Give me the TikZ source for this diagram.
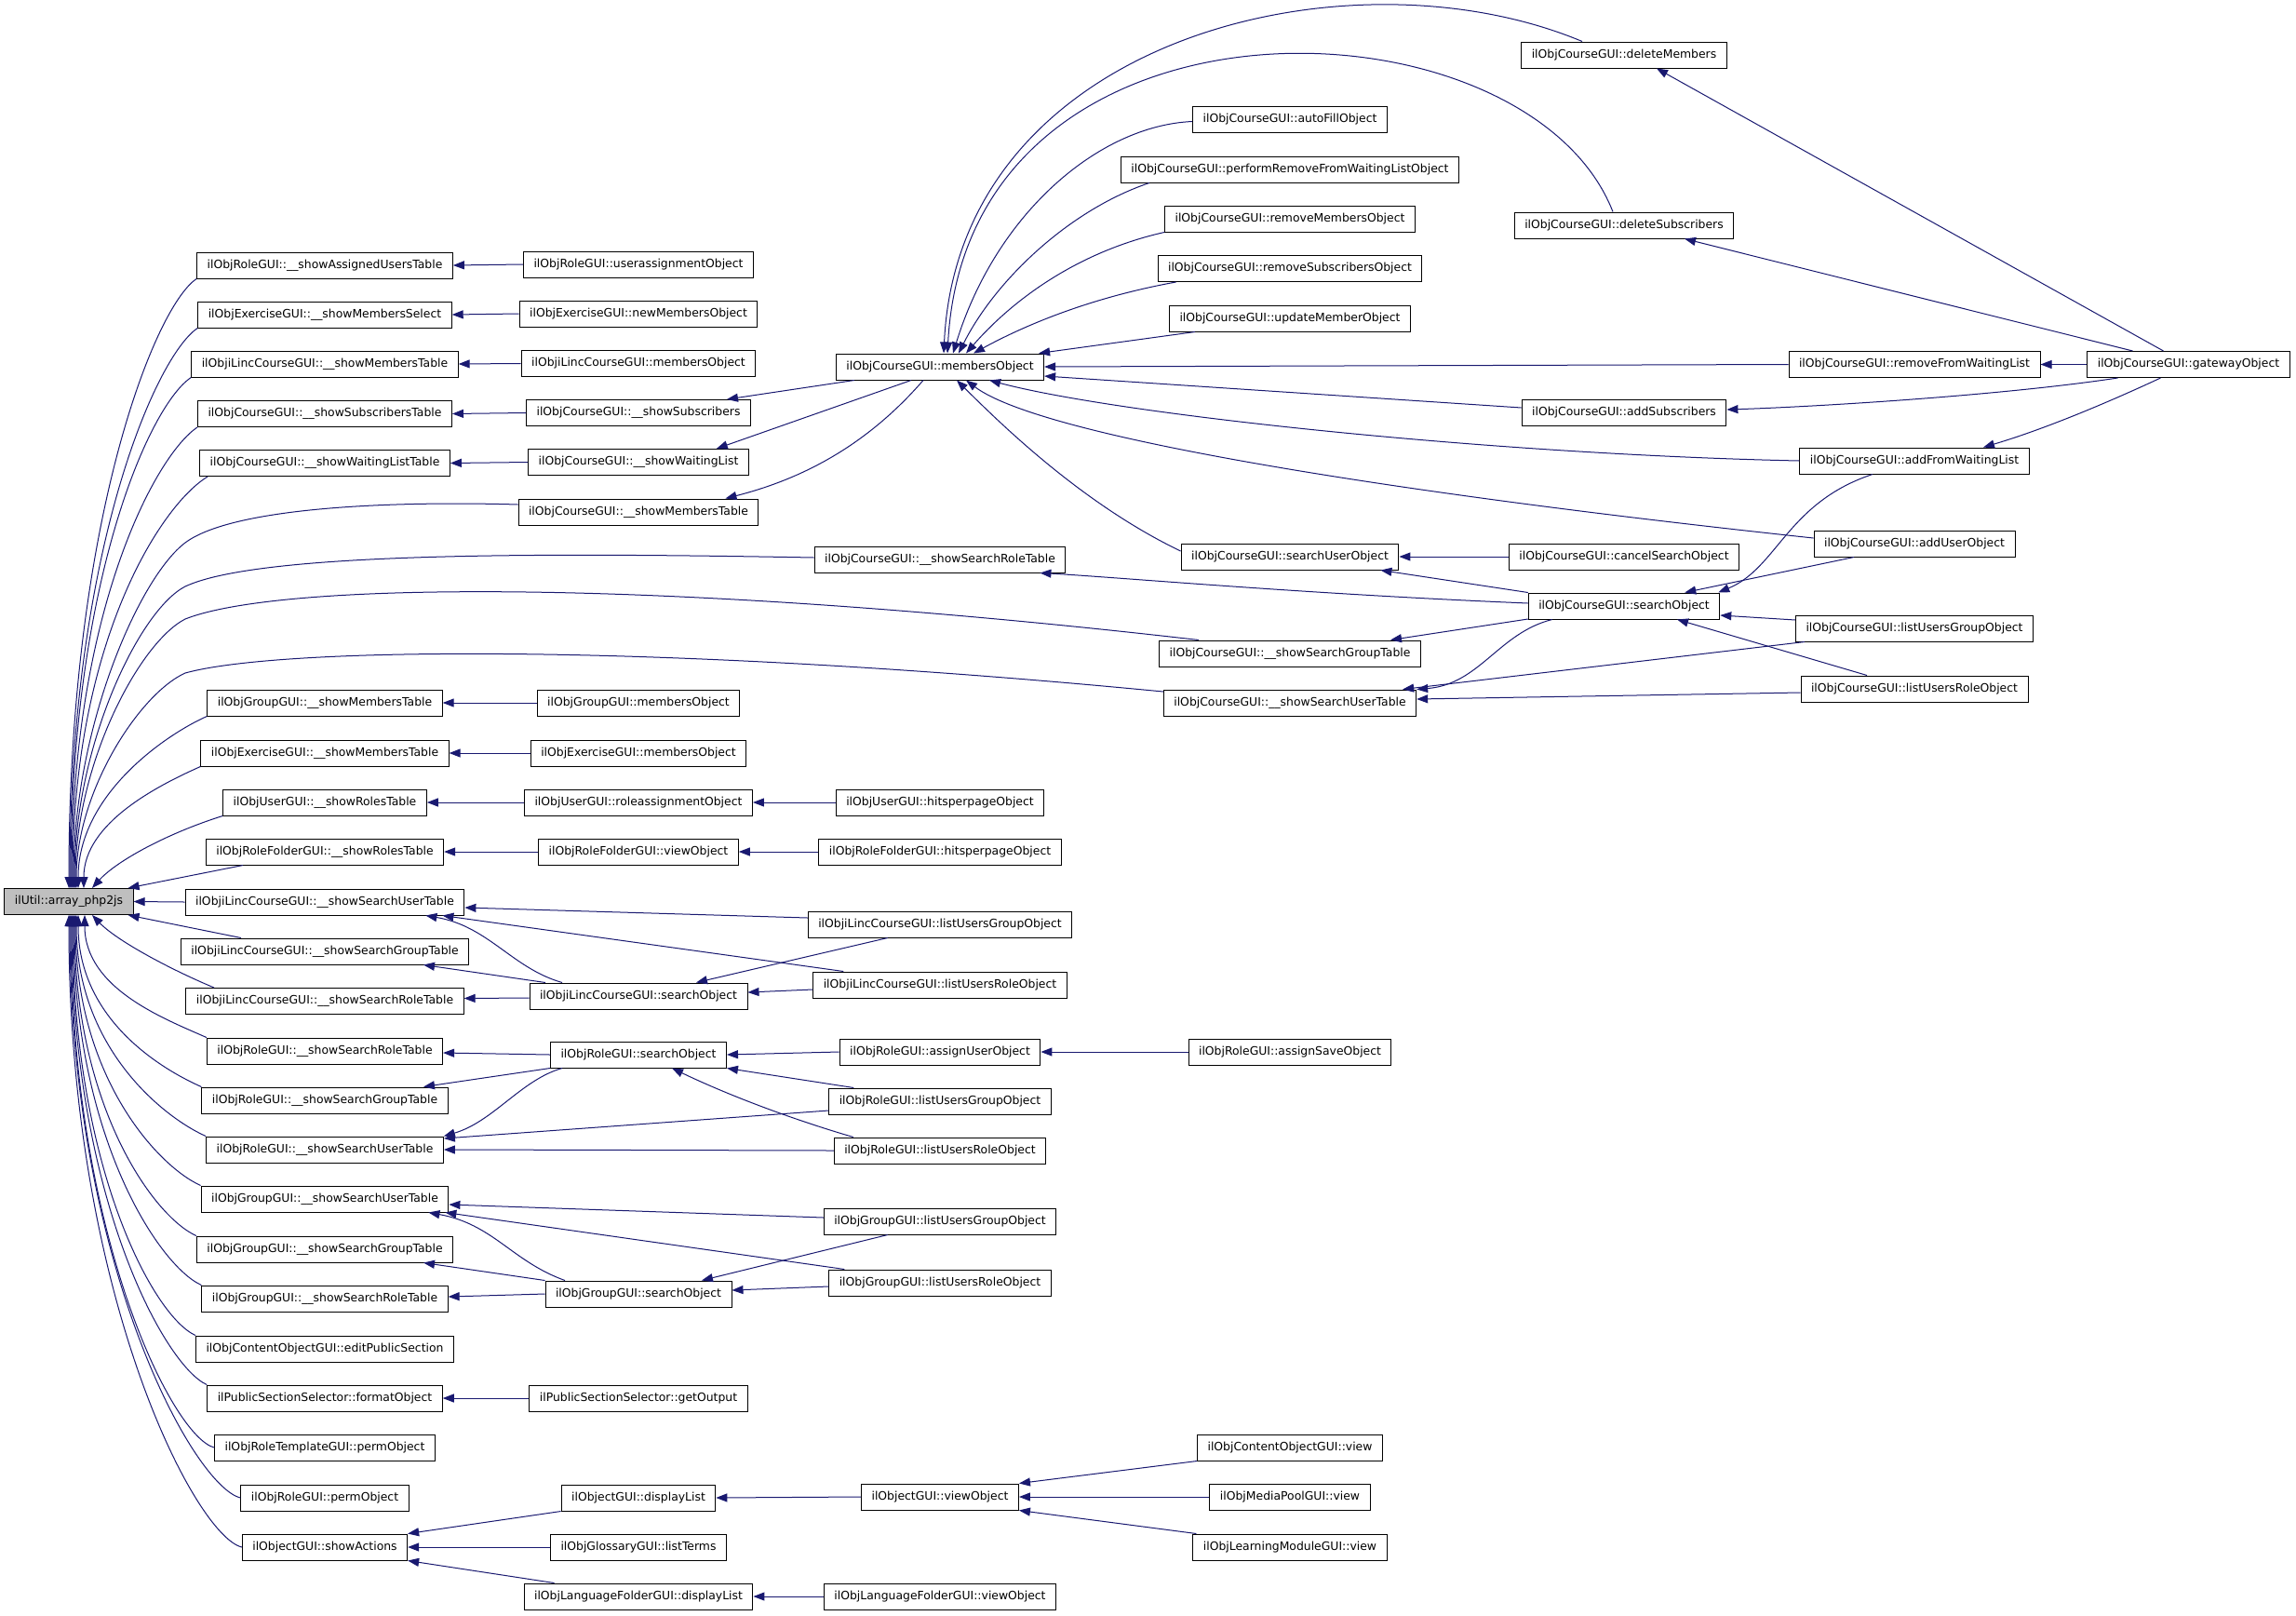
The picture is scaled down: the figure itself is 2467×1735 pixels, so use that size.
\documentclass[tikz,border=0pt]{standalone}
\usepackage{fontspec}
\newfontfamily\dejavu{DejaVu Sans}
\usepackage{tikz}
\usetikzlibrary{arrows.meta}
\definecolor{edgeblue}{HTML}{191970}
\newcommand{\fnfont}{\dejavu\fontsize{12.4pt}{14pt}\selectfont}

\begin{document}
\begin{tikzpicture}[x=1pt, y=-1pt, line width=1pt,
    func/.style={draw=black, fill=white, font=\fnfont, minimum height=28pt, inner xsep=11pt, inner ysep=0pt},
    selected/.style={func, fill=black!25},
    calls/.style={draw=edgeblue, -{Triangle[length=12pt, width=9pt]}}]
    \useasboundingbox (0,0) rectangle (2467,1735);

    % draw function boxes, column by column

    \node[selected] (php2js) at (74,968.5) {ilUtil::array\_php2js};

    \node[func] (roleAssignedTable) at (349,285) {ilObjRoleGUI::\_\_showAssignedUsersTable};
    \node[func] (exMembersSelect) at (349,338) {ilObjExerciseGUI::\_\_showMembersSelect};
    \node[func] (lincMembersTable) at (349,391) {ilObjiLincCourseGUI::\_\_showMembersTable};
    \node[func] (crsSubscribersTable) at (349,444.5) {ilObjCourseGUI::\_\_showSubscribersTable};
    \node[func] (crsWaitingTable) at (349,497.5) {ilObjCourseGUI::\_\_showWaitingListTable};
    \node[func] (grpMembersTable) at (349,755) {ilObjGroupGUI::\_\_showMembersTable};
    \node[func] (exMembersTable) at (349,809) {ilObjExerciseGUI::\_\_showMembersTable};
    \node[func] (usrRolesTable) at (349,862) {ilObjUserGUI::\_\_showRolesTable};
    \node[func] (rolfRolesTable) at (349,915) {ilObjRoleFolderGUI::\_\_showRolesTable};
    \node[func] (lincUserTable) at (349,969) {ilObjiLincCourseGUI::\_\_showSearchUserTable};
    \node[func] (lincGroupTable) at (349,1022) {ilObjiLincCourseGUI::\_\_showSearchGroupTable};
    \node[func] (lincRoleTable) at (349,1075.5) {ilObjiLincCourseGUI::\_\_showSearchRoleTable};
    \node[func] (roleRoleTable) at (349,1129) {ilObjRoleGUI::\_\_showSearchRoleTable};
    \node[func] (roleGroupTable) at (349,1182) {ilObjRoleGUI::\_\_showSearchGroupTable};
    \node[func] (roleUserTable) at (349,1235) {ilObjRoleGUI::\_\_showSearchUserTable};
    \node[func] (grpUserTable) at (349,1288) {ilObjGroupGUI::\_\_showSearchUserTable};
    \node[func] (grpGroupTable) at (349,1342) {ilObjGroupGUI::\_\_showSearchGroupTable};
    \node[func] (grpRoleTable) at (349,1395) {ilObjGroupGUI::\_\_showSearchRoleTable};
    \node[func] (cobjEditSection) at (349,1449) {ilObjContentObjectGUI::editPublicSection};
    \node[func] (pssFormat) at (349,1502) {ilPublicSectionSelector::formatObject};
    \node[func] (rtplPerm) at (349,1555) {ilObjRoleTemplateGUI::permObject};
    \node[func] (rolePerm) at (349,1609) {ilObjRoleGUI::permObject};
    \node[func] (objShowActions) at (349,1662) {ilObjectGUI::showActions};

    \node[func] (roleUserAssign) at (686,284) {ilObjRoleGUI::userassignmentObject};
    \node[func] (exNewMembers) at (686,337) {ilObjExerciseGUI::newMembersObject};
    \node[func] (lincMembers) at (686,390.5) {ilObjiLincCourseGUI::membersObject};
    \node[func] (crsSubscribers) at (686,443.5) {ilObjCourseGUI::\_\_showSubscribers};
    \node[func] (crsWaiting) at (686,496.5) {ilObjCourseGUI::\_\_showWaitingList};
    \node[func] (crsMembersTable) at (686,550) {ilObjCourseGUI::\_\_showMembersTable};
    \node[func] (grpMembers) at (686,755) {ilObjGroupGUI::membersObject};
    \node[func] (exMembers) at (686,809) {ilObjExerciseGUI::membersObject};
    \node[func] (usrRoleAssign) at (686,862) {ilObjUserGUI::roleassignmentObject};
    \node[func] (rolfView) at (686,915) {ilObjRoleFolderGUI::viewObject};
    \node[func] (lincSearch) at (686,1070) {ilObjiLincCourseGUI::searchObject};
    \node[func] (roleSearch) at (686,1133) {ilObjRoleGUI::searchObject};
    \node[func] (grpSearch) at (686,1390) {ilObjGroupGUI::searchObject};
    \node[func] (pssOutput) at (686,1502) {ilPublicSectionSelector::getOutput};
    \node[func] (objDisplayList) at (686,1609) {ilObjectGUI::displayList};
    \node[func] (gloListTerms) at (686,1662) {ilObjGlossaryGUI::listTerms};
    \node[func] (lngDisplayList) at (686,1715) {ilObjLanguageFolderGUI::displayList};

    \node[func] (crsMembers) at (1010,394) {ilObjCourseGUI::membersObject};
    \node[func] (crsRoleTable) at (1010,601) {ilObjCourseGUI::\_\_showSearchRoleTable};
    \node[func] (usrHits) at (1010,862) {ilObjUserGUI::hitsperpageObject};
    \node[func] (rolfHits) at (1010,915) {ilObjRoleFolderGUI::hitsperpageObject};
    \node[func] (lincListGroup) at (1010,993) {ilObjiLincCourseGUI::listUsersGroupObject};
    \node[func] (lincListRole) at (1010,1058) {ilObjiLincCourseGUI::listUsersRoleObject};
    \node[func] (roleAssignUser) at (1010,1130) {ilObjRoleGUI::assignUserObject};
    \node[func] (roleListGroup) at (1010,1183) {ilObjRoleGUI::listUsersGroupObject};
    \node[func] (roleListRole) at (1010,1236) {ilObjRoleGUI::listUsersRoleObject};
    \node[func] (grpListGroup) at (1010,1312) {ilObjGroupGUI::listUsersGroupObject};
    \node[func] (grpListRole) at (1010,1378) {ilObjGroupGUI::listUsersRoleObject};
    \node[func] (objView) at (1010,1608) {ilObjectGUI::viewObject};
    \node[func] (lngView) at (1010,1715) {ilObjLanguageFolderGUI::viewObject};

    \node[func] (crsAutoFill) at (1386,128.5) {ilObjCourseGUI::autoFillObject};
    \node[func] (crsPerformRemove) at (1386,182) {ilObjCourseGUI::performRemoveFromWaitingListObject};
    \node[func] (crsRemoveMembers) at (1386,235) {ilObjCourseGUI::removeMembersObject};
    \node[func] (crsRemoveSubs) at (1386,288.5) {ilObjCourseGUI::removeSubscribersObject};
    \node[func] (crsUpdateMember) at (1386,342) {ilObjCourseGUI::updateMemberObject};
    \node[func] (crsSearchUser) at (1386,598) {ilObjCourseGUI::searchUserObject};
    \node[func] (crsGroupTable) at (1386,702) {ilObjCourseGUI::\_\_showSearchGroupTable};
    \node[func] (crsUserTable) at (1386,755) {ilObjCourseGUI::\_\_showSearchUserTable};
    \node[func] (roleAssignSave) at (1386,1130) {ilObjRoleGUI::assignSaveObject};
    \node[func] (cobjView) at (1386,1555) {ilObjContentObjectGUI::view};
    \node[func] (mepView) at (1386,1608) {ilObjMediaPoolGUI::view};
    \node[func] (lmView) at (1386,1662) {ilObjLearningModuleGUI::view};

    \node[func] (crsDeleteMembers) at (1745,59) {ilObjCourseGUI::deleteMembers};
    \node[func] (crsDeleteSubs) at (1745,242) {ilObjCourseGUI::deleteSubscribers};
    \node[func] (crsAddSubs) at (1745,443) {ilObjCourseGUI::addSubscribers};
    \node[func] (crsCancelSearch) at (1745,598) {ilObjCourseGUI::cancelSearchObject};
    \node[func] (crsSearch) at (1745,651) {ilObjCourseGUI::searchObject};

    \node[func] (crsRemoveWaiting) at (2057,391.5) {ilObjCourseGUI::removeFromWaitingList};
    \node[func] (crsAddWaiting) at (2057,495) {ilObjCourseGUI::addFromWaitingList};
    \node[func] (crsAddUser) at (2057,584) {ilObjCourseGUI::addUserObject};
    \node[func] (crsListGroup) at (2057,675) {ilObjCourseGUI::listUsersGroupObject};
    \node[func] (crsListRole) at (2057,740) {ilObjCourseGUI::listUsersRoleObject};

    \node[func] (crsGateway) at (2351.5,391.5) {ilObjCourseGUI::gatewayObject};

    % draw calls into ilUtil::array_php2js

    \draw[calls] (roleAssignedTable.south west) .. controls +(-45,30) and +(0,-393) .. ([xshift=0pt]php2js.north);
    \draw[calls] (exMembersSelect.south west) .. controls +(-45,30) and +(0,-361) .. ([xshift=1pt]php2js.north);
    \draw[calls] (lincMembersTable.south west) .. controls +(-45,30) and +(0,-329) .. ([xshift=2pt]php2js.north);
    \draw[calls] (crsSubscribersTable.south west) .. controls +(-45,30) and +(0,-297) .. ([xshift=3pt]php2js.north);
    \draw[calls] ([xshift=9pt]crsWaitingTable.south west) .. controls +(-50,30) and +(0,-265) .. ([xshift=4pt]php2js.north);
    \draw[calls] ([yshift=8pt]crsMembersTable.west) .. controls (420,538) and (250,545) .. (199,583) .. controls (150,620) and (79,780) .. ([xshift=5pt]php2js.north);
    \draw[calls] ([yshift=2pt]crsRoleTable.west) .. controls (600,594) and (280,592) .. (199,630) .. controls (150,655) and (80,800) .. ([xshift=6pt]php2js.north);
    \draw[calls] ([xshift=-98pt]crsGroupTable.north) .. controls (700,620) and (300,625) .. (199,665) .. controls (150,690) and (81,820) .. ([xshift=7pt]php2js.north);
    \draw[calls] ([yshift=12pt]crsUserTable.west) .. controls (700,690) and (300,695) .. (199,723) .. controls (150,745) and (82,850) .. ([xshift=8pt]php2js.north);
    \draw[calls] (grpMembersTable.south west) .. controls +(-45,20) and +(0,-100) .. ([xshift=10pt]php2js.north);
    \draw[calls] (exMembersTable.south west) .. controls +(-45,20) and +(0,-70) .. ([xshift=16pt]php2js.north);
    \draw[calls] (usrRolesTable.south west) .. controls (180,895) and (125,925) .. ([xshift=25pt]php2js.north);
    \draw[calls] ([xshift=-88pt]rolfRolesTable.south) -- ([xshift=-6pt]php2js.north east);
    \draw[calls] (lincUserTable.west) -- (php2js.east);
    \draw[calls] ([xshift=-90pt]lincGroupTable.north) -- ([xshift=-6pt]php2js.south east);
    \draw[calls] ([xshift=-119pt]lincRoleTable.north) .. controls (180,1040) and (125,1010) .. ([xshift=25pt]php2js.south);
    \draw[calls] (roleRoleTable.north west) .. controls +(-45,-20) and +(0,79) .. ([xshift=17pt]php2js.south);
    \draw[calls] (roleGroupTable.north west) .. controls +(-45,-20) and +(0,111) .. ([xshift=10pt]php2js.south);
    \draw[calls] (roleUserTable.north west) .. controls +(-45,-20) and +(0,143) .. ([xshift=8pt]php2js.south);
    \draw[calls] (grpUserTable.north west) .. controls +(-45,-20) and +(0,175) .. ([xshift=7pt]php2js.south);
    \draw[calls] (grpGroupTable.north west) .. controls +(-45,-20) and +(0,207) .. ([xshift=6pt]php2js.south);
    \draw[calls] (grpRoleTable.north west) .. controls +(-45,-20) and +(0,239) .. ([xshift=5pt]php2js.south);
    \draw[calls] (cobjEditSection.north west) .. controls +(-45,-20) and +(0,271) .. ([xshift=4pt]php2js.south);
    \draw[calls] (pssFormat.north west) .. controls +(-45,-20) and +(0,303) .. ([xshift=3pt]php2js.south);
    \draw[calls] (rtplPerm.west) .. controls +(-45,-12) and +(0,343) .. ([xshift=2pt]php2js.south);
    \draw[calls] (rolePerm.west) .. controls +(-50,-12) and +(0,375) .. ([xshift=1pt]php2js.south);
    \draw[calls] (objShowActions.west) .. controls +(-50,-12) and +(0,407) .. ([xshift=0pt]php2js.south);

    % draw short calls between neighbouring columns

    \draw[calls] (roleUserAssign.west) -- (roleAssignedTable.east);
    \draw[calls] (exNewMembers.west) -- (exMembersSelect.east);
    \draw[calls] (lincMembers.west) -- (lincMembersTable.east);
    \draw[calls] (crsSubscribers.west) -- (crsSubscribersTable.east);
    \draw[calls] (crsWaiting.west) -- (crsWaitingTable.east);
    \draw[calls] (grpMembers.west) -- (grpMembersTable.east);
    \draw[calls] (exMembers.west) -- (exMembersTable.east);
    \draw[calls] (usrRoleAssign.west) -- (usrRolesTable.east);
    \draw[calls] (usrHits.west) -- (usrRoleAssign.east);
    \draw[calls] (rolfView.west) -- (rolfRolesTable.east);
    \draw[calls] (rolfHits.west) -- (rolfView.east);
    \draw[calls] (pssOutput.west) -- (pssFormat.east);
    \draw[calls] (objDisplayList.south west) -- (objShowActions.north east);
    \draw[calls] (gloListTerms.west) -- (objShowActions.east);
    \draw[calls] ([xshift=33pt]lngDisplayList.north west) -- (objShowActions.south east);
    \draw[calls] (objView.west) -- (objDisplayList.east);
    \draw[calls] (cobjView.south west) -- (objView.north east);
    \draw[calls] (mepView.west) -- (objView.east);
    \draw[calls] ([xshift=4pt]lmView.north west) -- (objView.south east);
    \draw[calls] (lngView.west) -- (lngDisplayList.east);

    % draw iLinc search calls

    \draw[calls] ([yshift=7pt]lincListGroup.west) -- ([yshift=-6pt]lincUserTable.east);
    \draw[calls] ([xshift=33pt]lincListRole.north west) -- ([xshift=-24pt]lincUserTable.south east);
    \draw[calls] ([xshift=-82pt]lincSearch.north) .. controls (550,1040) and (525,995) .. ([xshift=-42pt]lincUserTable.south east);
    \draw[calls] ([xshift=-100pt]lincSearch.north) -- ([xshift=106pt]lincGroupTable.south);
    \draw[calls] ([yshift=-2pt]lincSearch.west) -- ([yshift=3pt]lincRoleTable.east);
    \draw[calls] ([xshift=86pt]lincListGroup.south west) -- ([xshift=62pt]lincSearch.north);
    \draw[calls] ([yshift=-5pt]lincListRole.west) -- ([yshift=4pt]lincSearch.east);

    % draw role search calls

    \draw[calls] (roleSearch.west) -- ([yshift=-2pt]roleRoleTable.east);
    \draw[calls] (roleSearch.south west) -- ([xshift=106pt]roleGroupTable.north);
    \draw[calls] ([xshift=-82pt]roleSearch.south) .. controls (560,1160) and (530,1205) .. (roleUserTable.north east);
    \draw[calls] ([yshift=-10pt]roleListGroup.west) -- ([yshift=12pt]roleUserTable.east);
    \draw[calls] (roleListRole.west) -- (roleUserTable.east);
    \draw[calls] (roleAssignUser.west) -- (roleSearch.east);
    \draw[calls] (roleAssignSave.west) -- (roleAssignUser.east);
    \draw[calls] ([xshift=27pt]roleListGroup.north west) -- (roleSearch.south east);
    \draw[calls] ([xshift=21pt]roleListRole.north west) .. controls (860,1205) and (790,1180) .. ([xshift=36pt]roleSearch.south);

    % draw group search calls

    \draw[calls] ([yshift=4pt]grpListGroup.west) -- ([yshift=-6pt]grpUserTable.east);
    \draw[calls] ([xshift=17pt]grpListRole.north west) -- ([xshift=-4pt]grpUserTable.south east);
    \draw[calls] ([xshift=-79pt]grpSearch.north) .. controls (550,1355) and (530,1315) .. ([xshift=-22pt]grpUserTable.south east);
    \draw[calls] (grpSearch.north west) -- ([xshift=106pt]grpGroupTable.south);
    \draw[calls] (grpSearch.west) -- ([yshift=2pt]grpRoleTable.east);
    \draw[calls] ([xshift=69pt]grpListGroup.south west) -- ([xshift=68pt]grpSearch.north);
    \draw[calls] ([yshift=-4pt]grpListRole.west) -- ([yshift=4pt]grpSearch.east);

    % draw course members calls

    \draw[calls] ([xshift=20pt]crsMembers.south west) -- ([xshift=-26pt]crsSubscribers.north east);
    \draw[calls] ([xshift=-31pt]crsMembers.south) -- ([xshift=-35pt]crsWaiting.north east);
    \draw[calls] ([xshift=-18pt]crsMembers.south) .. controls (930,480) and (860,515) .. ([xshift=-36pt]crsMembersTable.north east);

    \draw[calls] ([xshift=-45pt]crsDeleteMembers.north) .. controls (1450,-60) and (1030,40) .. ([xshift=4pt]crsMembers.north);
    \draw[calls] ([xshift=-12pt]crsDeleteSubs.north) .. controls (1640,-10) and (1040,-30) .. ([xshift=8pt]crsMembers.north);
    \draw[calls] ([yshift=-2pt]crsAutoFill.west) .. controls (1180,135) and (1070,230) .. ([xshift=14pt]crsMembers.north);
    \draw[calls] ([xshift=31pt]crsPerformRemove.south west) .. controls (1150,225) and (1070,300) .. ([xshift=20pt]crsMembers.north);
    \draw[calls] (crsRemoveMembers.south west) .. controls (1160,270) and (1090,320) .. ([xshift=28pt]crsMembers.north);
    \draw[calls] ([xshift=20pt]crsRemoveSubs.south west) .. controls (1170,320) and (1100,350) .. ([xshift=36pt]crsMembers.north);
    \draw[calls] ([xshift=28pt]crsUpdateMember.south west) -- ([xshift=-6pt]crsMembers.north east);
    \draw[calls] (crsRemoveWaiting.west) -- (crsMembers.east);
    \draw[calls] ([yshift=5pt]crsAddSubs.west) -- ([yshift=-10pt]crsMembers.east);
    \draw[calls] (crsAddWaiting.west) .. controls (1600,488) and (1200,445) .. ([xshift=-59pt]crsMembers.south east);
    \draw[calls] ([yshift=6pt]crsAddUser.west) .. controls (1500,530) and (1120,470) .. ([xshift=28pt]crsMembers.south);
    \draw[calls] ([yshift=6pt]crsSearchUser.west) .. controls (1160,540) and (1070,450) .. ([xshift=18pt]crsMembers.south);

    % draw course gateway calls

    \draw[calls] ([xshift=-27pt]crsGateway.north) -- ([xshift=35pt]crsDeleteMembers.south);
    \draw[calls] ([xshift=-60pt]crsGateway.north) -- ([xshift=65pt]crsDeleteSubs.south);
    \draw[calls] (crsGateway.west) -- (crsRemoveWaiting.east);
    \draw[calls] ([xshift=-76pt]crsGateway.south) .. controls (2150,425) and (1950,437) .. ([yshift=3pt]crsAddSubs.east);
    \draw[calls] ([xshift=-30pt]crsGateway.south) .. controls (2270,430) and (2200,460) .. ([xshift=74pt]crsAddWaiting.north);

    % draw course search calls

    \draw[calls] ([xshift=-45pt]crsAddWaiting.south) .. controls (1920,540) and (1910,610) .. ([xshift=-2pt]crsSearch.north east);
    \draw[calls] ([xshift=-65pt]crsAddUser.south) -- ([xshift=-38pt]crsSearch.north east);
    \draw[calls] ([yshift=9pt]crsListGroup.west) -- ([yshift=-10pt]crsSearch.east);
    \draw[calls] ([xshift=-51pt]crsListRole.north) -- ([xshift=57pt]crsSearch.south);
    \draw[calls] (crsCancelSearch.west) -- (crsSearchUser.east);
    \draw[calls] (crsSearch.north west) -- ([xshift=-20pt]crsSearchUser.south east);
    \draw[calls] ([yshift=3pt]crsSearch.west) .. controls (1400,638) and (1200,620) .. ([xshift=-28pt]crsRoleTable.south east);
    \draw[calls] ([yshift=-14pt]crsSearch.west) -- ([xshift=108pt]crsGroupTable.north);
    \draw[calls] ([xshift=26pt]crsSearch.south west) .. controls (1610,680) and (1590,735) .. (crsUserTable.north east);
    \draw[calls] ([xshift=10pt]crsListGroup.south west) -- ([xshift=-15pt]crsUserTable.north east);
    \draw[calls] ([yshift=-4pt]crsListRole.west) -- ([yshift=4pt]crsUserTable.east);
\end{tikzpicture}
\end{document}
